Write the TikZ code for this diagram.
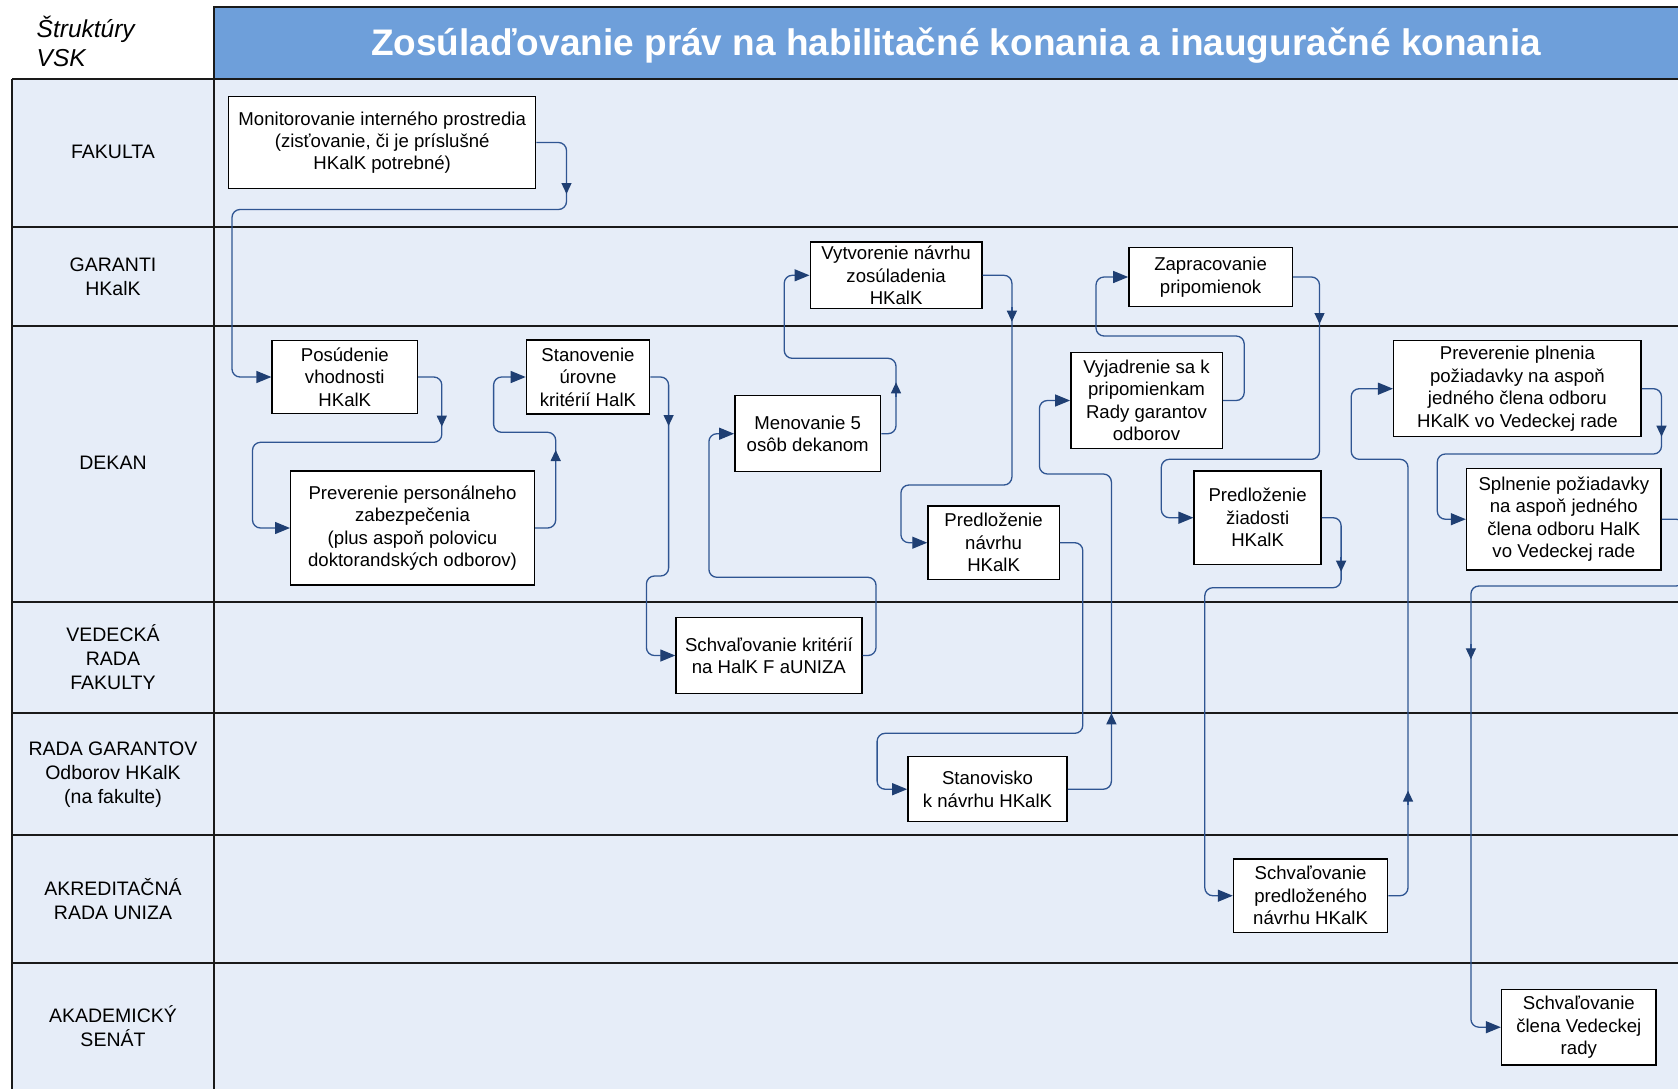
\documentclass[tikz,border=0pt]{standalone}
\usepackage{fontspec}
\setmainfont{Liberation Sans}
\usetikzlibrary{arrows.meta}
\definecolor{lanefill}{HTML}{E6EDF8}
\definecolor{headblue}{HTML}{6E9FDA}
\definecolor{connc}{HTML}{2F5592}
\definecolor{arrowc}{HTML}{1F3F73}
\definecolor{gridc}{HTML}{1A1A1A}
\begin{document}
\begin{tikzpicture}[x=1pt,y=-1pt,
  box/.style={draw=black, line width=1.4pt, fill=white, align=center, inner sep=0pt,
    font=\fontsize{18.6}{22.4}\selectfont},
  lanelbl/.style={align=center, inner sep=0pt, font=\fontsize{19.5}{24}\selectfont},
  grid/.style={draw=gridc, line width=1.9pt},
  flow/.style={draw=connc, line width=1.3pt, rounded corners=8pt,
    -{Triangle[length=15pt,width=12pt,color=arrowc]}},
  midarr/.style={draw=connc, line width=1.3pt,
    -{Triangle[length=11pt,width=10pt,color=arrowc]}},
]
\useasboundingbox (0,0) rectangle (1678,1088);
\clip (0,0) rectangle (1678,1088);
\fill[white] (0,0) rectangle (1678,1088);
% lanes background
\fill[lanefill] (12,79) rectangle (1690,1100);
% header
\filldraw[fill=headblue, grid] (214,7) rectangle (1690,79);
\node[text=white, inner sep=0pt, font=\fontsize{37}{44}\bfseries\selectfont] (title) at (956,46)
  {Zosúlaďovanie práv na habilitačné konania a inauguračné konania};
\node[anchor=west, align=left, inner sep=0pt, font=\fontsize{24.5}{29.5}\itshape\selectfont] (struct) at (36.5,41.5)
  {Štruktúry\\VSK};
% lane lines
\foreach \yy in {79,227,326,602,713,835,963} {\draw[grid] (12,\yy) -- (1690,\yy);}
\draw[grid] (12,79) -- (12,1100);
\draw[grid] (214,7) -- (214,1100);
% lane labels
\node[lanelbl] (l1) at (113,152) {FAKULTA};
\node[lanelbl] (l2) at (113,276.5) {GARANTI\\HKalK};
\node[lanelbl] (l3) at (113,463) {DEKAN};
\node[lanelbl] (l4) at (113,657.5) {VEDECKÁ\\RADA\\FAKULTY};
\node[lanelbl] (l5) at (113,775) {RADA GARANTOV\\Odborov HKalK\\(na fakulte)};
\node[lanelbl] (l6) at (113,899) {AKREDITAČNÁ\\RADA UNIZA};
\node[lanelbl] (l7) at (113,1026.5) {AKADEMICKÝ\\SENÁT};
% boxes
\node[box, minimum width=307pt, minimum height=91.6pt] (mon) at (382.2,142.5)
  {Monitorovanie interného prostredia\\(zisťovanie, či je príslušné\\HKalK potrebné)};
\node[box, minimum width=145.4pt, minimum height=72.6pt] (pos) at (344.8,377)
  {Posúdenie\\vhodnosti\\HKalK};
\node[box, minimum width=243.6pt, minimum height=114pt] (prev) at (412.5,528)
  {Preverenie personálneho\\zabezpečenia\\(plus aspoň polovicu\\doktorandských odborov)};
\node[box, minimum width=123.2pt, minimum height=74pt] (stan) at (588,377)
  {Stanovenie\\úrovne\\kritérií HalK};
\node[box, minimum width=145.8pt, minimum height=76pt] (men) at (807.7,433.7)
  {Menovanie 5\\osôb dekanom};
\node[box, minimum width=171.8pt, minimum height=66.7pt] (vyt) at (896.1,275.3)
  {Vytvorenie návrhu\\zosúladenia\\HKalK};
\node[box, minimum width=185.8pt, minimum height=75.6pt] (sch1) at (768.9,655.5)
  {Schvaľovanie kritérií\\na HalK F aUNIZA};
\node[box, minimum width=131.3pt, minimum height=73.3pt] (pred1) at (993.6,542.7)
  {Predloženie\\návrhu\\HKalK};
\node[box, minimum width=159.2pt, minimum height=65pt] (stanov) at (987.5,789.2)
  {Stanovisko\\k návrhu HKalK};
\node[box, minimum width=151.4pt, minimum height=96.4pt] (vyj) at (1146.5,400.5)
  {Vyjadrenie sa k\\pripomienkam\\Rady garantov\\odborov};
\node[box, minimum width=163.4pt, minimum height=58.6pt] (zap) at (1210.6,277)
  {Zapracovanie\\pripomienok};
\node[box, minimum width=126.9pt, minimum height=93.3pt] (pred2) at (1257.6,517.7)
  {Predloženie\\žiadosti\\HKalK};
\node[box, minimum width=154.2pt, minimum height=73.4pt] (sch2) at (1310.6,895.7)
  {Schvaľovanie\\predloženého\\návrhu HKalK};
\node[box, minimum width=247.5pt, minimum height=96pt] (prev2) at (1517.4,388.7)
  {Preverenie plnenia\\požiadavky na aspoň\\jedného člena odboru\\HKalK vo Vedeckej rade};
\node[box, minimum width=194.6pt, minimum height=101.7pt] (spl) at (1563.8,519.2)
  {Splnenie požiadavky\\na aspoň jedného\\člena odboru HalK\\vo Vedeckej rade};
\node[box, minimum width=154.5pt, minimum height=75.7pt] (sch3) at (1578.8,1027.2)
  {Schvaľovanie\\člena Vedeckej\\rady};
% connectors
\draw[flow] (mon.east) -| (566.5,209.5) -- (232,209.5) |- (pos.west);
\draw[midarr] (566.5,180) -- (566.5,194);
\draw[flow] (pos.east) -| (441.8,442.3) -- (252.5,442.3) |- (prev.west);
\draw[midarr] (441.8,412) -- (441.8,426.7);
\draw[flow] (prev.east) -| (555.7,432.3) -- (493.6,432.3) |- (stan.west);
\draw[midarr] (555.7,465) -- (555.7,450);
\draw[flow] (stan.east) -| (668.6,576) -- (646.4,576) |- (sch1.west);
\draw[midarr] (668.6,411) -- (668.6,426);
\draw[flow] (sch1.east) -| (876,577.3) -- (708.9,577.3) |- (men.west);
\draw[flow] (men.east) -| (896,358.3) -- (784.2,358.3) |- (vyt.west);
\draw[midarr] (896,397) -- (896,382.3);
\draw[flow] (vyt.east) -| (1011.9,485) -- (900.9,485) |- (pred1.west);
\draw[midarr] (1011.9,307) -- (1011.9,321.7);
\draw[flow] (pred1.east) -| (1082.8,733.3) -- (877.1,733.3) |- (stanov.west);
\draw[flow] (stanov.east) -| (1111.4,474) -- (1039.4,474) |- (vyj.west);
\draw[midarr] (1111.4,728) -- (1111.4,713.3);
\draw[flow] (vyj.east) -| (1244.2,336) -- (1096,336) |- (zap.west);
\draw[flow] (zap.east) -| (1319.5,459.3) -- (1161.3,459.3) |- (pred2.west);
\draw[midarr] (1319.5,309) -- (1319.5,324);
\draw[flow] (pred2.east) -| (1341.1,587.7) -- (1204.8,587.7) |- (sch2.west);
\draw[midarr] (1341.1,557) -- (1341.1,571.7);
\draw[flow] (sch2.east) -| (1408,459.3) -- (1351.2,459.3) |- (prev2.west);
\draw[midarr] (1408,805) -- (1408,790.6);
\draw[flow] (prev2.east) -| (1661.5,454) -- (1437.3,454) |- (spl.west);
\draw[midarr] (1661.5,422) -- (1661.5,436.7);
\draw[flow] (spl.east) -| (1684,586) -- (1470.9,586) |- (sch3.west);
\draw[midarr] (1470.9,644) -- (1470.9,659.3);
\end{tikzpicture}
\end{document}
